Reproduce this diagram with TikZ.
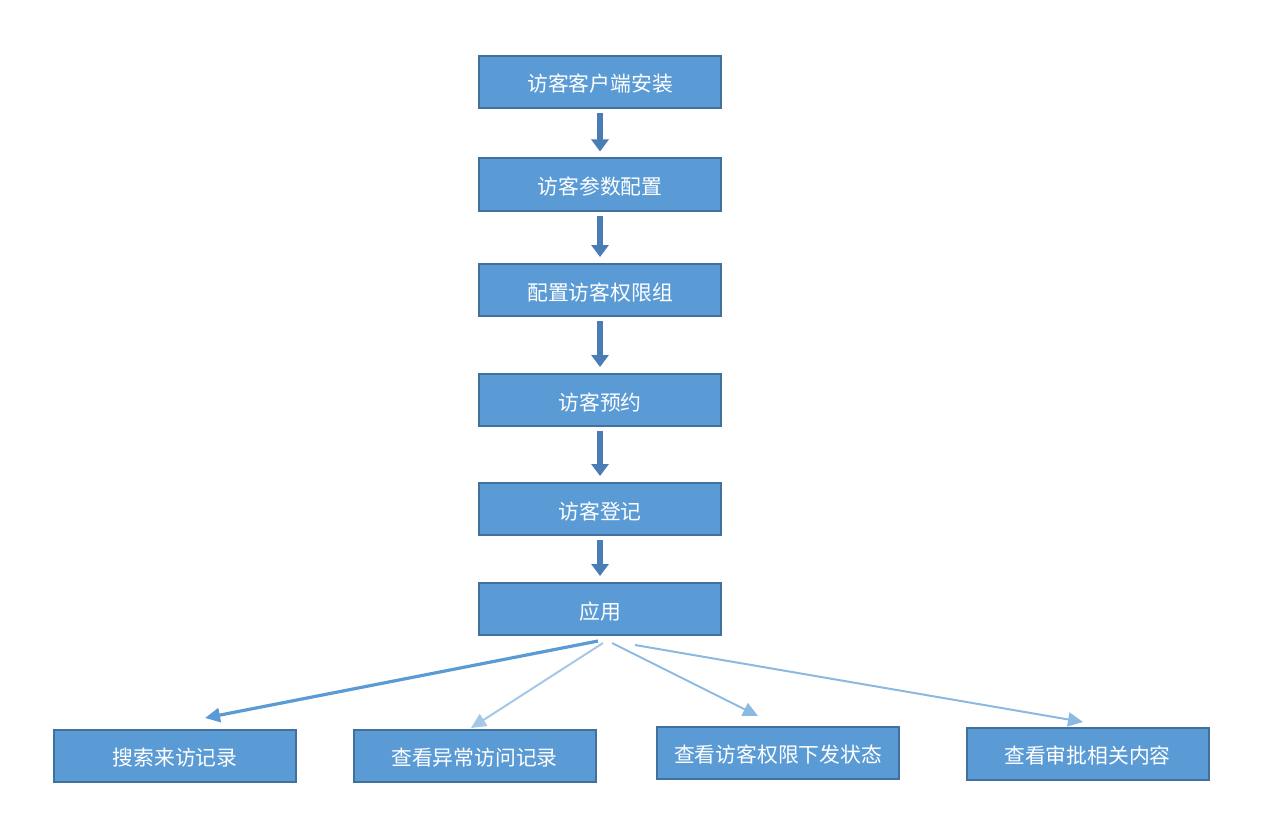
\documentclass[tikz,border=0pt]{standalone}
\usepackage{fontspec}
\setmainfont{Noto Sans CJK SC}
\usetikzlibrary{arrows.meta}
\definecolor{boxfill}{HTML}{5B9BD5}
\definecolor{boxline}{HTML}{41719C}
\definecolor{flowline}{HTML}{4A7DB5}

\begin{document}
\begin{tikzpicture}
    [x=0.5pt,y=-0.5pt,
     box/.style={rectangle,draw=boxline,fill=boxfill,line width=1pt,minimum width=121pt,minimum height=26pt,inner sep=0pt,text height=10pt,text depth=0pt,text=white,font=\fontsize{10.4pt}{12pt}\selectfont},
     flow/.style={draw=flowline,line width=3pt,-{Triangle[width=8.5pt,length=6pt]},shorten <=2pt,shorten >=3pt},
     branch/.style={draw=boxfill!70,line width=1pt,-{Triangle[width=7pt,length=7.5pt]}}]
    \useasboundingbox (0,0) rectangle (1261,834);
    \node[box] (inst) at (600,82) {访客客户端安装};
    \node[box] (param) at (600,184.5) {访客参数配置};
    \node[box] (grp) at (600,290) {配置访客权限组};
    \node[box] (resv) at (600,400) {访客预约};
    \node[box] (reg) at (600,509) {访客登记};
    \node[box] (app) at (600,609) {应用};
    \node[box] (srch) at (175,755.5) {搜索来访记录};
    \node[box] (abn) at (474.5,755.5) {查看异常访问记录};
    \node[box] (perm) at (778,752.5) {查看访客权限下发状态};
    \node[box] (appr) at (1087.5,753.5) {查看审批相关内容};
    \coordinate (a1) at (598,641);
    \coordinate (a2) at (603,643);
    \coordinate (a3) at (612,643);
    \coordinate (a4) at (635,645);
    \coordinate (b1) at (205,718);
    \coordinate (b2) at (471,728);
    \coordinate (b3) at (758,716);
    \coordinate (b4) at (1083,722);
    \draw[flow] (inst) -- (param);
    \draw[flow] (param) -- (grp);
    \draw[flow] (grp) -- (resv);
    \draw[flow] (resv) -- (reg);
    \draw[flow] (reg) -- (app);
    \draw[branch,draw=boxfill,line width=1.6pt] (a1) -- (b1);
    \draw[branch,draw=boxfill!55] (a2) -- (b2);
    \draw[branch] (a3) -- (b3);
    \draw[branch] (a4) -- (b4);
\end{tikzpicture}
\end{document}
